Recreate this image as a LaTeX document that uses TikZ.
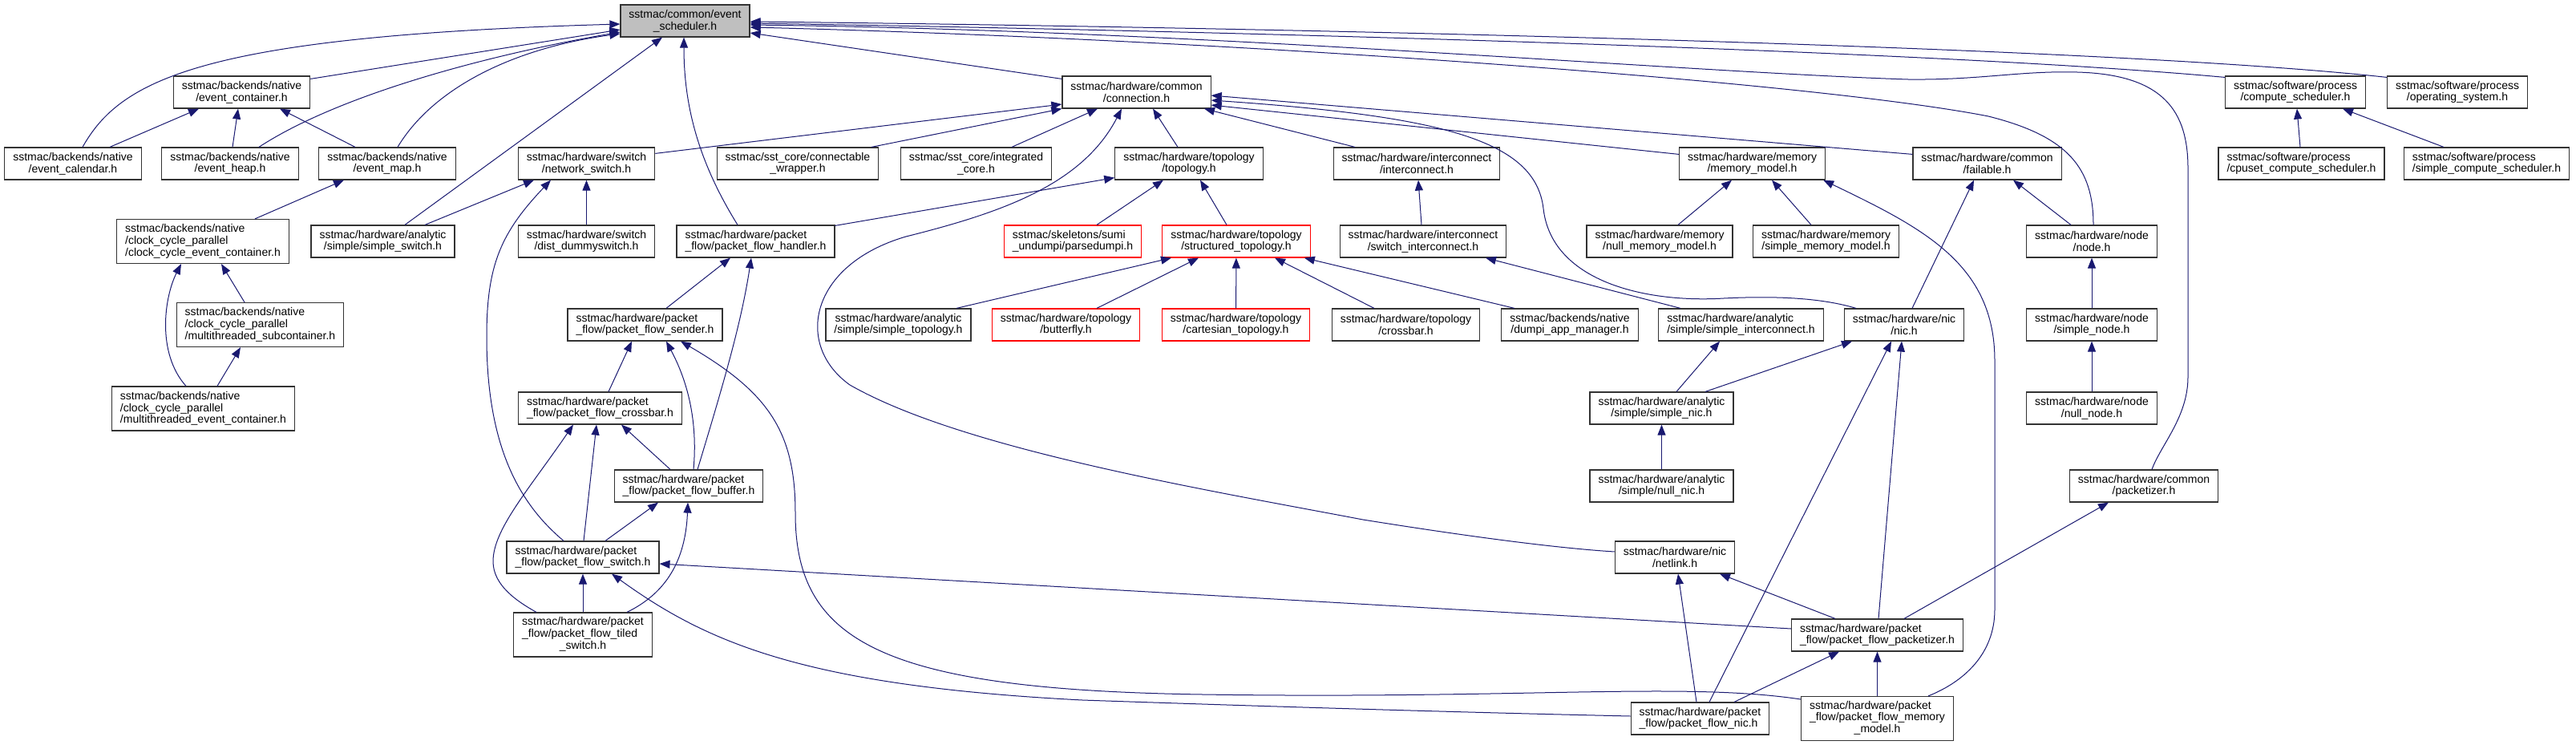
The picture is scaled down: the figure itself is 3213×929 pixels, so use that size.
\documentclass[tikz,border=0pt]{standalone}
\usepackage{fontspec}
\setmainfont{Liberation Sans}
\usepackage{xcolor}
\usepackage{tikz}
\usetikzlibrary{arrows.meta}
\definecolor{edgeblue}{RGB}{25,25,112}
\definecolor{schedgray}{RGB}{191,191,191}

\begin{document}
\begin{tikzpicture}[x=1pt,y=-1pt,
    file/.style={draw=black!80, line width=1.2pt, fill=white, inner xsep=10.5pt,
        inner ysep=0pt, minimum height=40pt, font=\fontsize{14}{14.7}\selectfont},
    cfile/.style={file, align=center},
    lfile/.style={file, align=left},
    redfile/.style={file, draw=red},
    tall/.style={minimum height=55pt},
    dep/.style={draw=edgeblue, line width=1pt, {Triangle[length=13pt,width=10pt]}-}]
    \useasboundingbox (0,0) rectangle (3213,929);

    \node[cfile, fill=schedgray] (sched) at (854.5,26) {sstmac/common/event\\\_scheduler.h};

    \node[cfile] (evcont) at (301.5,115) {sstmac/backends/native\\/event\_container.h};
    \node[cfile] (conn) at (1417.5,115) {sstmac/hardware/common\\/connection.h};
    \node[cfile] (compsched) at (2863,115) {sstmac/software/process\\/compute\_scheduler.h};
    \node[cfile] (opsys) at (3065,115) {sstmac/software/process\\/operating\_system.h};

    \node[cfile] (evcal) at (91,204) {sstmac/backends/native\\/event\_calendar.h};
    \node[cfile] (evheap) at (287,204) {sstmac/backends/native\\/event\_heap.h};
    \node[cfile] (evmap) at (483,204) {sstmac/backends/native\\/event\_map.h};
    \node[cfile] (netsw) at (731.5,204) {sstmac/hardware/switch\\/network\_switch.h};
    \node[cfile] (connwrap) at (995,204) {sstmac/sst\_core/connectable\\\_wrapper.h};
    \node[cfile] (intcore) at (1217.5,204) {sstmac/sst\_core/integrated\\\_core.h};
    \node[cfile] (topo) at (1483,204) {sstmac/hardware/topology\\/topology.h};
    \node[cfile] (interconn) at (1767,204) {sstmac/hardware/interconnect\\/interconnect.h};
    \node[cfile] (memmodel) at (2185.5,204) {sstmac/hardware/memory\\/memory\_model.h};
    \node[cfile] (failable) at (2478.5,204) {sstmac/hardware/common\\/failable.h};
    \node[lfile] (cpuset) at (2870.5,204) {sstmac/software/process\\/cpuset\_compute\_scheduler.h};
    \node[lfile] (simplecs) at (3101.5,204) {sstmac/software/process\\/simple\_compute\_scheduler.h};

    \node[lfile, tall] (ccevc) at (253,301)
        {sstmac/backends/native\\/clock\_cycle\_parallel\\/clock\_cycle\_event\_container.h};
    \node[cfile] (simplesw) at (477.5,301) {sstmac/hardware/analytic\\/simple/simple\_switch.h};
    \node[cfile] (dummysw) at (731.5,301) {sstmac/hardware/switch\\/dist\_dummyswitch.h};
    \node[lfile] (pfhandler) at (942.5,301) {sstmac/hardware/packet\\\_flow/packet\_flow\_handler.h};
    \node[lfile, redfile] (parsedumpi) at (1338,301) {sstmac/skeletons/sumi\\\_undumpi/parsedumpi.h};
    \node[cfile, redfile] (structopo) at (1542,301) {sstmac/hardware/topology\\/structured\_topology.h};
    \node[cfile] (swinterconn) at (1775,301) {sstmac/hardware/interconnect\\/switch\_interconnect.h};
    \node[cfile] (nullmem) at (2070,301) {sstmac/hardware/memory\\/null\_memory\_model.h};
    \node[cfile] (simplemem) at (2277.5,301) {sstmac/hardware/memory\\/simple\_memory\_model.h};
    \node[cfile] (node) at (2609,301) {sstmac/hardware/node\\/node.h};

    \node[lfile, tall] (mtsub) at (324.5,405)
        {sstmac/backends/native\\/clock\_cycle\_parallel\\/multithreaded\_subcontainer.h};
    \node[lfile] (pfsender) at (804.5,405) {sstmac/hardware/packet\\\_flow/packet\_flow\_sender.h};
    \node[cfile] (simpletopo) at (1120.5,405) {sstmac/hardware/analytic\\/simple/simple\_topology.h};
    \node[cfile, redfile] (butterfly) at (1329.5,405) {sstmac/hardware/topology\\/butterfly.h};
    \node[cfile, redfile] (cartesian) at (1541.5,405) {sstmac/hardware/topology\\/cartesian\_topology.h};
    \node[cfile] (crossbar) at (1753.5,405) {sstmac/hardware/topology\\/crossbar.h};
    \node[cfile] (dumpiapp) at (1958,405) {sstmac/backends/native\\/dumpi\_app\_manager.h};
    \node[lfile] (simpleinterconn) at (2171.5,405) {sstmac/hardware/analytic\\/simple/simple\_interconnect.h};
    \node[cfile] (nic) at (2375,405) {sstmac/hardware/nic\\/nic.h};
    \node[cfile] (simplenode) at (2609,405) {sstmac/hardware/node\\/simple\_node.h};

    \node[lfile, tall] (mtevc) at (253.5,509.5)
        {sstmac/backends/native\\/clock\_cycle\_parallel\\/multithreaded\_event\_container.h};
    \node[lfile] (pfcrossbar) at (748.5,509) {sstmac/hardware/packet\\\_flow/packet\_flow\_crossbar.h};
    \node[cfile] (simplenic) at (2072.5,509) {sstmac/hardware/analytic\\/simple/simple\_nic.h};
    \node[cfile] (nullnode) at (2609,509) {sstmac/hardware/node\\/null\_node.h};

    \node[lfile] (pfbuffer) at (859,606) {sstmac/hardware/packet\\\_flow/packet\_flow\_buffer.h};
    \node[cfile] (nullnic) at (2072.5,606) {sstmac/hardware/analytic\\/simple/null\_nic.h};
    \node[cfile] (packetizer) at (2674,606) {sstmac/hardware/common\\/packetizer.h};

    \node[lfile] (pfswitch) at (727,695) {sstmac/hardware/packet\\\_flow/packet\_flow\_switch.h};
    \node[cfile] (netlink) at (2089,695) {sstmac/hardware/nic\\/netlink.h};

    \node[file, tall] (pftiled) at (727,791.5) {\begin{tabular}{@{}l@{}}sstmac/hardware/packet\\
        \_flow/packet\_flow\_tiled\\\multicolumn{1}{@{}c@{}}{\_switch.h}\end{tabular}};
    \node[lfile] (pfpacketizer) at (2341.5,792) {sstmac/hardware/packet\\\_flow/packet\_flow\_packetizer.h};

    \node[lfile] (pfnic) at (2120.5,896) {sstmac/hardware/packet\\\_flow/packet\_flow\_nic.h};
    \node[file, tall] (pfmem) at (2341.5,896) {\begin{tabular}{@{}l@{}}sstmac/hardware/packet\\
        \_flow/packet\_flow\_memory\\\multicolumn{1}{@{}c@{}}{\_model.h}\end{tabular}};

    \draw[dep] ([yshift=-4pt]sched.west) .. controls (250,45) and (150,100) .. ([xshift=12pt]evcal.north);
    \draw[dep] ([yshift=-11pt]sched.west) -- ([yshift=-4pt]evcont.north east);
    \draw[dep] ([yshift=-14pt]sched.west) .. controls (600,70) and (420,120) .. ([xshift=36pt]evheap.north);
    \draw[dep] ([yshift=-16pt]sched.west) .. controls (640,60) and (540,110) .. ([xshift=13pt]evmap.north);
    \draw[dep] ([xshift=-28.5pt]sched.south) -- ([xshift=27.5pt]simplesw.north);
    \draw[dep] ([xshift=-1.5pt]sched.south) .. controls (853,130) and (870,200) .. ([xshift=-22.5pt]pfhandler.north);
    \draw[dep] ([yshift=-15pt]sched.east) -- ([yshift=-4pt]conn.north west);
    \draw[dep] ([yshift=-1pt]sched.east) .. controls (1500,33) and (2600,55) .. ([yshift=-2pt]opsys.north west);
    \draw[dep] ([yshift=-3pt]sched.east) .. controls (1500,38) and (2400,62) .. ([yshift=-2pt]compsched.north west);
    \draw[dep] ([yshift=-5pt]sched.east) .. controls (1500,38) and (2100,90) .. (2380,99)
        .. controls (2470,100) and (2520,88) .. (2591,90) .. controls (2700,93) and (2729,140) .. (2729,210)
        -- (2729,470) .. controls (2729,520) and (2695,555) .. ([xshift=10pt]packetizer.north);
    \draw[dep] ([yshift=-8pt]sched.east) .. controls (1500,48) and (2250,100) .. (2480,145)
        .. controls (2580,170) and (2611,210) .. ([xshift=2pt]node.north);

    \draw[dep] ([yshift=-15pt]conn.west) -- ([yshift=-8pt]netsw.north east);
    \draw[dep] (conn.south west) -- ([xshift=92pt]connwrap.north);
    \draw[dep] ([xshift=-48.5pt]conn.south) -- ([xshift=44.5pt]intcore.north);
    \draw[dep] ([xshift=-18.5pt]conn.south) .. controls (1350,230) and (1250,265) .. (1130,295)
        .. controls (1010,330) and (990,430) .. (1060,480) .. controls (1200,560) and (1500,610) .. (1700,648)
        .. controls (1850,672) and (1950,684) .. ([yshift=7pt]netlink.west);
    \draw[dep] ([xshift=20.5pt]conn.south) -- ([xshift=-14pt]topo.north);
    \draw[dep] ([xshift=84.5pt]conn.south) -- ([xshift=-77pt]interconn.north);
    \draw[dep] ([yshift=-16pt]conn.east) -- ([yshift=-9pt]memmodel.north west);
    \draw[dep] ([yshift=-4pt]conn.east) -- ([yshift=-9pt]failable.north west);
    \draw[dep] ([yshift=-10pt]conn.east) .. controls (1800,145) and (1915,175) .. (1925,260)
        .. controls (1935,350) and (2050,378) .. (2150,372) .. controls (2230,368) and (2280,374) .. ([xshift=-60pt]nic.north);

    \draw[dep] ([yshift=3pt]topo.south west) -- ([yshift=-1pt]pfhandler.north east);
    \draw[dep] ([xshift=-32pt]topo.south) -- ([xshift=30pt]parsedumpi.north);
    \draw[dep] ([xshift=14pt]topo.south) -- ([xshift=-12pt]structopo.north);
    \draw[dep] ([xshift=-81pt]structopo.south) -- ([xshift=72.5pt]simpletopo.north);
    \draw[dep] ([xshift=-47pt]structopo.south) -- ([xshift=38.5pt]butterfly.north);
    \draw[dep] (structopo) -- (cartesian);
    \draw[dep] ([xshift=48pt]structopo.south) -- ([xshift=-39.5pt]crossbar.north);
    \draw[dep] ([xshift=-8pt]structopo.south east) -- ([xshift=-69pt]dumpiapp.north);

    \draw[dep] ([xshift=2pt]interconn.south) -- ([xshift=-2pt]swinterconn.north);
    \draw[dep] ([xshift=78pt]swinterconn.south) -- ([xshift=-75.5pt]simpleinterconn.north);
    \draw[dep] ([xshift=-25.5pt]memmodel.south) -- ([xshift=23pt]nullmem.north);
    \draw[dep] ([xshift=24.5pt]memmodel.south) -- ([xshift=-18.5pt]simplemem.north);
    \draw[dep] ([xshift=-3pt]memmodel.south east) .. controls (2400,285) and (2488,330) .. (2488,450)
        -- (2488,760) .. controls (2488,815) and (2450,850) .. ([xshift=-32pt]pfmem.north east);

    \draw[dep] ([xshift=-16.5pt]failable.south) -- ([xshift=10pt]nic.north);
    \draw[dep] ([xshift=32.5pt]failable.south) -- ([xshift=-26pt]node.north);
    \draw[dep] (node) -- (simplenode);
    \draw[dep] (simplenode) -- (nullnode);
    \draw[dep] ([xshift=2pt]compsched.south) -- ([xshift=-1.5pt]cpuset.north);
    \draw[dep] ([xshift=59pt]compsched.south) -- ([xshift=-53.5pt]simplecs.north);

    \draw[dep] ([xshift=-53.5pt]evcont.south) -- ([xshift=46pt]evcal.north);
    \draw[dep] ([xshift=-4.5pt]evcont.south) -- ([xshift=3pt]evheap.north);
    \draw[dep] ([xshift=47.5pt]evcont.south) -- ([xshift=-40pt]evmap.north);
    \draw[dep] ([xshift=-54pt]evmap.south) -- ([xshift=65pt]ccevc.north);
    \draw[dep] ([xshift=23pt]ccevc.south) -- ([xshift=-19.5pt]mtsub.north);
    \draw[dep] ([xshift=-27pt]ccevc.south) .. controls (205,370) and (195,440) .. ([xshift=-21.5pt]mtevc.north);
    \draw[dep] ([xshift=-24.5pt]mtsub.south) -- ([xshift=17.5pt]mtevc.north);

    \draw[dep] ([xshift=-65.5pt]netsw.south) -- ([xshift=52.5pt]simplesw.north);
    \draw[dep] (netsw) -- (dummysw);
    \draw[dep] ([xshift=-44.5pt]netsw.south) .. controls (625,290) and (607,330) .. (607,420)
        .. controls (607,560) and (650,630) .. ([xshift=-24pt]pfswitch.north);

    \draw[dep] ([xshift=-31.5pt]pfhandler.south) -- ([xshift=26.5pt]pfsender.north);
    \draw[dep] ([xshift=-5.5pt]pfhandler.south) .. controls (925,400) and (905,470) .. ([xshift=11pt]pfbuffer.north);
    \draw[dep] ([xshift=-16.5pt]pfsender.south) -- ([xshift=10.5pt]pfcrossbar.north);
    \draw[dep] ([xshift=26.5pt]pfsender.south) .. controls (860,480) and (870,530) .. ([xshift=6pt]pfbuffer.north);
    \draw[dep] ([xshift=44.5pt]pfsender.south) .. controls (960,490) and (992,540) .. (992,640)
        .. controls (992,800) and (1100,860) .. (1500,866) .. controls (1900,872) and (2100,850) .. ([yshift=24pt]pfmem.west);
    \draw[dep] ([xshift=-33.5pt]pfcrossbar.south) .. controls (660,610) and (615,660) .. (615,700)
        .. controls (615,730) and (645,750) .. ([xshift=-58pt]pftiled.north);
    \draw[dep] ([xshift=-4.5pt]pfcrossbar.south) -- ([xshift=1pt]pfswitch.north);
    \draw[dep] ([xshift=26.5pt]pfcrossbar.south) -- ([xshift=-23pt]pfbuffer.north);
    \draw[dep] ([xshift=-38pt]pfbuffer.south) -- ([xshift=28pt]pfswitch.north);
    \draw[dep] ([xshift=-1pt]pfbuffer.south) .. controls (855,700) and (830,740) .. ([xshift=55pt]pftiled.north);
    \draw[dep] (pfswitch) -- (pftiled);
    \draw[dep] ([xshift=36pt]pfswitch.south) .. controls (880,800) and (1000,855) .. (1350,873)
        .. controls (1700,885) and (1900,890) .. ([yshift=3pt]pfnic.west);
    \draw[dep] ([yshift=-8pt]pfswitch.east) -- ([yshift=8pt]pfpacketizer.west);

    \draw[dep] ([xshift=4pt]netlink.south) -- ([xshift=-4.5pt]pfnic.north);
    \draw[dep] ([xshift=56pt]netlink.south) -- ([xshift=-52.5pt]pfpacketizer.north);
    \draw[dep] ([xshift=-47.5pt]pfpacketizer.south) -- ([xshift=42.5pt]pfnic.north);
    \draw[dep] (pfpacketizer) -- (pfmem);
    \draw[dep] ([xshift=-16pt]nic.south) -- ([xshift=11.5pt]pfnic.north);
    \draw[dep] ([xshift=-3pt]nic.south) -- ([xshift=1.5pt]pfpacketizer.north);
    \draw[dep] ([xshift=-65pt]nic.south) -- ([xshift=54.5pt]simplenic.north);
    \draw[dep] ([xshift=-26.5pt]simpleinterconn.south) -- ([xshift=18.5pt]simplenic.north);
    \draw[dep] (simplenic) -- (nullnic);
    \draw[dep] ([xshift=-44pt]packetizer.south) -- ([xshift=33.5pt]pfpacketizer.north);
\end{tikzpicture}
\end{document}
